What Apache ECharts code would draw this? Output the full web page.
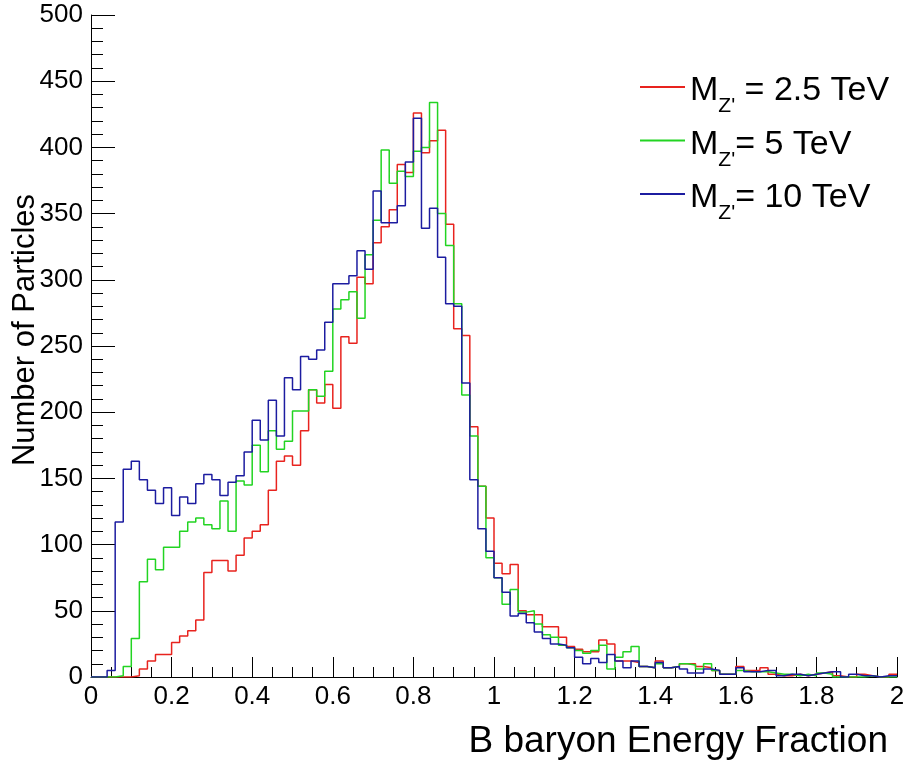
<!DOCTYPE html>
<html>
<head>
<meta charset="utf-8">
<title>B baryon Energy Fraction</title>
<script src="https://cdn.jsdelivr.net/npm/echarts@6/dist/echarts.min.js"></script>
<style>
  html, body { margin: 0; padding: 0; background: #ffffff; }
  #chart { width: 907px; height: 765px; }
</style>
</head>
<body>
<div id="chart"></div>
<script>
// Histogram binning: 100 bins of width 0.02 over [0, 2]
const binWidth = 0.02;
const nBins = 100;

// Bin contents (Number of Particles per bin)
const countsMZ2p5 = [
  0, 0, 0, 0, 0, 1, 6, 12, 17, 17,
  26, 31, 35, 43, 79, 88, 88, 80, 92, 105,
  110, 115, 141, 163, 167, 160, 186, 217, 207, 221,
  203, 257, 252, 302, 297, 328, 340, 353, 387, 381,
  426, 396, 405, 413, 342, 263, 258, 189, 144, 120,
  86, 78, 85, 50, 47, 47, 38, 38, 30, 23,
  21, 19, 19, 28, 25, 12, 12, 11, 8, 7,
  12, 7, 8, 10, 10, 8, 7, 5, 2, 2,
  8, 5, 5, 7, 2, 1, 1, 2, 1, 2,
  3, 4, 1, 0, 0, 2, 1, 0, 0, 2
];
const countsMZ5 = [
  0, 0, 0, 1, 8, 29, 72, 89, 81, 98,
  98, 110, 117, 120, 115, 112, 133, 110, 148, 145,
  175, 155, 186, 172, 178, 201, 201, 217, 212, 231,
  278, 285, 291, 271, 319, 345, 398, 373, 382, 378,
  397, 400, 434, 350, 326, 282, 213, 182, 144, 90,
  75, 55, 66, 49, 50, 40, 32, 30, 24, 22,
  20, 18, 20, 24, 6, 15, 19, 23, 8, 7,
  10, 7, 8, 10, 9, 6, 10, 5, 2, 2,
  5, 4, 4, 4, 3, 2, 2, 1, 2, 1,
  3, 2, 0, 0, 0, 0, 1, 0, 0, 0
];
const countsMZ10 = [
  0, 0, 5, 117, 157, 163, 149, 141, 131, 143,
  122, 136, 131, 146, 153, 149, 137, 147, 152, 170,
  194, 179, 209, 182, 226, 217, 242, 240, 247, 268,
  297, 297, 303, 322, 308, 367, 343, 343, 356, 389,
  422, 339, 354, 317, 282, 280, 222, 149, 112, 95,
  75, 64, 46, 48, 41, 34, 29, 25, 24, 22,
  15, 10, 14, 11, 17, 12, 7, 12, 8, 7,
  11, 7, 8, 6, 3, 3, 6, 5, 2, 2,
  7, 4, 4, 5, 5, 1, 2, 2, 1, 2,
  3, 4, 4, 0, 2, 1, 1, 0, 1, 1
];

// Legend labels (rich text: M with subscript Z')
const seriesNames = ['MZ2p5', 'MZ5', 'MZ10'];
const legendLabels = {
  MZ2p5: "{m|M}{s|Z'}{m| = 2.5 TeV}",
  MZ5: "{m|M}{s|Z'}{m|= 5 TeV}",
  MZ10: "{m|M}{s|Z'}{m|= 10 TeV}"
};
const seriesColors = ['#e8231e', '#22d422', '#1c1ca0'];

// Turn bin contents into step-outline points (left edge of each bin, plus closing edge)
function histPoints(counts) {
  const pts = [];
  for (let i = 0; i < nBins; i++) {
    pts.push([+(i * binWidth).toFixed(4), counts[i]]);
  }
  pts.push([+(nBins * binWidth).toFixed(4), counts[nBins - 1]]);
  return pts;
}

const font = 'Liberation Sans, Arial, Helvetica, sans-serif';
const allCounts = [countsMZ2p5, countsMZ5, countsMZ10];

const chart = echarts.init(document.getElementById('chart'), null, { renderer: 'canvas' });

chart.setOption({
  animation: false,
  backgroundColor: '#ffffff',
  grid: { left: 91, top: 15, width: 806, height: 662, containLabel: false, outerBoundsMode: 'none' },
  legend: {
    orient: 'vertical',
    left: 635,
    top: 65,
    itemGap: 6.5,
    itemWidth: 45,
    itemHeight: 2,
    icon: 'rect',
    data: seriesNames,
    formatter: name => legendLabels[name],
    textStyle: {
      color: '#000000',
      fontFamily: font,
      rich: {
        m: { fontSize: 34, fontFamily: font, color: '#000', lineHeight: 34, padding: [4, 0, 0, 0], verticalAlign: 'top' },
        s: { fontSize: 21, fontFamily: font, color: '#000', lineHeight: 20, padding: [26, 0, 0, 0], verticalAlign: 'top' }
      }
    }
  },
  xAxis: {
    type: 'value',
    min: 0,
    max: 2,
    interval: 0.2,
    name: 'B baryon Energy Fraction',
    nameLocation: 'end',
    nameGap: -9,
    nameMoveOverlap: false,
    nameTextStyle: {
      fontFamily: font, fontSize: 37, color: '#000',
      align: 'right', verticalAlign: 'top', padding: [46, 0, 0, 0]
    },
    axisLine: { show: true, onZero: false, lineStyle: { color: '#000', width: 1 } },
    axisTick: { show: true, inside: true, length: 20, lineStyle: { color: '#000' } },
    minorTick: { show: true, splitNumber: 4, length: 10, lineStyle: { color: '#000' } },
    splitLine: { show: false },
    axisLabel: { fontFamily: font, fontSize: 26, color: '#000', margin: 7 }
  },
  yAxis: {
    type: 'value',
    min: 0,
    max: 500,
    interval: 50,
    name: 'Number of Particles',
    nameLocation: 'middle',
    nameGap: 50,
    nameMoveOverlap: false,
    nameTextStyle: { fontFamily: font, fontSize: 31, color: '#000', padding: [0, 0, 0, 32] },
    axisLine: { show: true, onZero: false, lineStyle: { color: '#000', width: 1 } },
    axisTick: { show: true, inside: true, length: 24, lineStyle: { color: '#000' } },
    minorTick: { show: true, splitNumber: 5, length: 12, lineStyle: { color: '#000' } },
    splitLine: { show: false },
    axisLabel: { fontFamily: font, fontSize: 26, color: '#000', margin: 8 }
  },
  series: seriesNames.map((name, k) => ({
    name: name,
    type: 'line',
    step: 'end',
    showSymbol: false,
    symbol: 'none',
    color: seriesColors[k],
    lineStyle: { color: seriesColors[k], width: 1.5 },
    data: histPoints(allCounts[k])
  }))
});
</script>
</body>
</html>
